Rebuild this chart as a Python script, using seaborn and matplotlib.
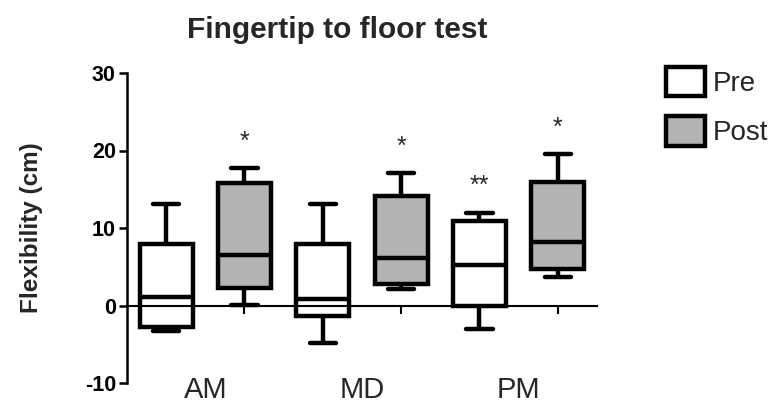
import numpy as np
import pandas as pd
import matplotlib
matplotlib.use("Agg")
import matplotlib.pyplot as plt
import seaborn as sns
from matplotlib.patches import Patch
from matplotlib.transforms import blended_transform_factory

# ---- data (five-number summaries: min, Q1, median, Q3, max; cm)
groups = ["AM", "MD", "PM"]
phases = ["Pre", "Post"]
am_pre = [-3.3, -2.8, 1.1, 8.0, 13.1]
am_post = [0.1, 2.3, 6.5, 15.8, 17.7]
md_pre = [-4.9, -1.4, 0.8, 8.0, 13.1]
md_post = [2.1, 2.8, 6.1, 14.1, 17.1]
pm_pre = [-3.0, -0.1, 5.2, 10.9, 12.0]
pm_post = [3.7, 4.7, 8.2, 16.0, 19.5]
star_group = ["AM", "MD", "PM", "PM"]
star_phase = ["Post", "Post", "Pre", "Post"]
star_text = ["*", "*", "**", "*"]
yticks = [-10, 0, 10, 20, 30]

series = {
    ("AM", "Pre"): am_pre, ("AM", "Post"): am_post,
    ("MD", "Pre"): md_pre, ("MD", "Post"): md_post,
    ("PM", "Pre"): pm_pre, ("PM", "Post"): pm_post,
}
rows = []
for (g, p), vals in series.items():
    for v in vals:
        rows.append({"group": g, "phase": p, "value": v})
df = pd.DataFrame(rows)

sns.set_style("ticks")
plt.rcParams["font.family"] = ["Liberation Sans", "DejaVu Sans"]

W, H = 782, 405
fig = plt.figure(figsize=(W / 100, H / 100), dpi=100)
ax = fig.add_axes([127 / W, 22 / H, 470 / W, 310 / H])

box_width = 1.0
sns.boxplot(
    data=df, x="group", y="value", hue="phase",
    order=groups, hue_order=phases,
    palette={"Pre": "white", "Post": "#b3b3b3"}, saturation=1,
    width=box_width, gap=0.32, dodge=True, whis=(0, 100),
    linecolor="black", linewidth=3.2, legend=False, ax=ax,
)

ax.set_xlim(-0.5, 2.5)
ax.set_ylim(-10, 30)
ax.set_yticks(yticks)
ax.set_yticklabels([str(t) for t in yticks], fontsize=15.5, fontweight="bold")
ax.tick_params(axis="y", length=6, width=1.8, pad=2, colors="black")

def xpos(g, p):
    slot = box_width / len(phases)
    return groups.index(g) + (phases.index(p) - (len(phases) - 1) / 2) * slot

centers = [xpos(g, p) for g in groups for p in phases]
ax.set_xticks(centers)
ax.set_xticklabels([""] * len(centers))
ax.tick_params(axis="x", length=6, width=1.5, direction="out", colors="black")
ax.set_xlabel("")
ax.set_ylabel("")

for s in ["top", "right"]:
    ax.spines[s].set_visible(False)
ax.spines["bottom"].set_position(("data", 0))
ax.spines["bottom"].set_linewidth(1.5)
ax.spines["left"].set_linewidth(1.8)
ax.spines["left"].set_color("black")
ax.spines["bottom"].set_color("black")

trans = blended_transform_factory(ax.transData, ax.transAxes)
for i, g in enumerate(groups):
    ax.text(i, -(404 - 383) / 310, g, transform=trans, ha="center", va="bottom",
            fontsize=21, clip_on=False)

for g, p, t in zip(star_group, star_phase, star_text):
    top = max(series[(g, p)])
    ax.text(xpos(g, p), top + 2.5, t, ha="center", va="baseline", fontsize=18)

fig.text(337 / W, 1 - 30 / H, "Fingertip to floor test", ha="center", va="center",
         fontsize=21.5, fontweight="bold")
fig.text(32 / W, 1 - 228 / H, "Flexibility (cm)", rotation=90, ha="center", va="center",
         fontsize=17.5, fontweight="bold")

handles = [
    Patch(facecolor="white", edgecolor="black", linewidth=3.2, label="Pre"),
    Patch(facecolor="#b3b3b3", edgecolor="black", linewidth=3.2, label="Post"),
]
fig.legend(handles=handles, loc="upper left", bbox_to_anchor=(666 / W, 1 - 67 / H),
           frameon=False, fontsize=20, handlelength=1.4, handleheight=1.25,
           labelspacing=0.7, handletextpad=0.3, borderaxespad=0, borderpad=0)

fig.savefig("out.png", dpi=100, facecolor="white")
